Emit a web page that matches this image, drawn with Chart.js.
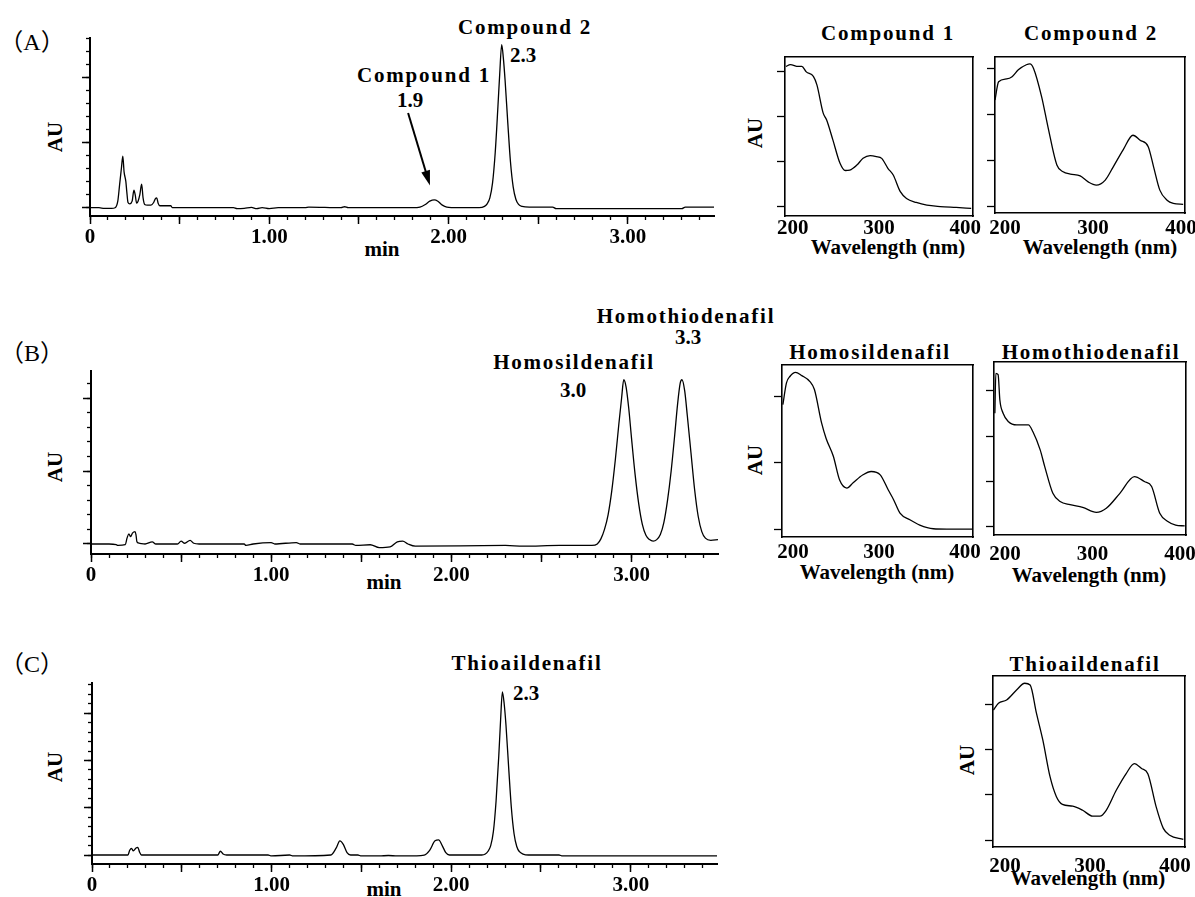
<!DOCTYPE html>
<html>
<head>
<meta charset="utf-8">
<script src="https://cdn.jsdelivr.net/npm/chart.js@4"></script>
<style>
body{margin:0;background:#fff;width:1195px;height:897px;position:relative;overflow:hidden;font-family:"Liberation Serif","Times New Roman",serif;color:#000}
.t{position:absolute;transform:translate(-50%,-50%);white-space:nowrap;font-weight:bold;font-size:21px;line-height:1}
.sp{letter-spacing:1.8px}
.rot{transform:translate(-50%,-50%) rotate(-90deg)}
.pl{font-weight:normal;font-size:24px;font-family:"Liberation Serif","Noto Sans CJK JP",serif}
</style>
</head>
<body>
<div class="t pl" style="left:32px;top:42px">（A）</div>
<div class="t pl" style="left:32px;top:353px">（B）</div>
<div class="t pl" style="left:32px;top:664px">（C）</div>

<div class="t rot" style="left:55px;top:137px">AU</div>
<div class="t rot" style="left:55px;top:467px">AU</div>
<div class="t rot" style="left:55px;top:767px">AU</div>
<div class="t" style="left:382px;top:249px">min</div>
<div class="t" style="left:384px;top:582px">min</div>
<div class="t" style="left:384px;top:889px">min</div>

<div class="t sp" style="left:525px;top:27px">Compound 2</div>
<div class="t" style="left:523px;top:55px">2.3</div>
<div class="t sp" style="left:424px;top:75px">Compound 1</div>
<div class="t" style="left:410px;top:100px">1.9</div>
<div class="t sp" style="left:686px;top:316px">Homothiodenafil</div>
<div class="t" style="left:688px;top:337px">3.3</div>
<div class="t sp" style="left:574px;top:362px">Homosildenafil</div>
<div class="t" style="left:573px;top:390px">3.0</div>
<div class="t sp" style="left:527px;top:663px">Thioaildenafil</div>
<div class="t" style="left:526px;top:693px">2.3</div>

<div class="t sp" style="left:888px;top:33px">Compound 1</div>
<div class="t sp" style="left:1091px;top:33px">Compound 2</div>
<div class="t sp" style="left:870px;top:352px">Homosildenafil</div>
<div class="t sp" style="left:1091px;top:352px">Homothiodenafil</div>
<div class="t sp" style="left:1085px;top:664px">Thioaildenafil</div>
<div class="t rot" style="left:755px;top:133px">AU</div>
<div class="t rot" style="left:755px;top:460px">AU</div>
<div class="t rot" style="left:967px;top:760px">AU</div>
<div class="t" style="left:888px;top:247px">Wavelength (nm)</div>
<div class="t" style="left:1100px;top:247px">Wavelength (nm)</div>
<div class="t" style="left:877px;top:572px">Wavelength (nm)</div>
<div class="t" style="left:1089px;top:575px">Wavelength (nm)</div>
<div class="t" style="left:1088px;top:878px">Wavelength (nm)</div>

<script>
// chromatograms: retention time (min) and response
const timeTickLabels = ['0', '1.00', '2.00', '3.00']
const timeMax = 3.48

const timeA = [0, 0.05, 0.08, 0.12, 0.14, 0.155, 0.165, 0.175, 0.183, 0.19,
    0.2, 0.205, 0.212, 0.222, 0.235, 0.245, 0.252, 0.26, 0.268, 0.278,
    0.288, 0.296, 0.305, 0.32, 0.34, 0.355, 0.365, 0.372, 0.38, 0.39,
    0.42, 0.45, 0.46, 0.8, 0.82, 0.86, 0.9, 0.93, 0.96, 1.0,
    1.05, 1.2, 1.22, 1.4, 1.42, 1.44, 1.8, 1.84, 1.87, 1.895,
    1.92, 1.94, 1.965, 1.99, 2.05, 2.17, 2.2, 2.215, 2.23, 2.245,
    2.26, 2.275, 2.285, 2.296, 2.305, 2.315, 2.33, 2.345, 2.36, 2.375,
    2.39, 2.41, 2.45, 2.58, 2.6, 3.3, 3.32, 3.48]
const auA = [0, 0, -0.01, -0.01, 0, 0.1, 0.35, 0.6, 0.79, 0.55,
    0.4, 0.25, 0.08, 0.06, 0.1, 0.27, 0.2, 0.07, 0.1, 0.2,
    0.36, 0.15, 0.05, 0.04, 0.04, 0.08, 0.14, 0.15, 0.07, 0.03,
    0.03, 0.03, 0, 0, -0.015, -0.01, 0.005, -0.015, 0, -0.015,
    0, 0, 0.01, 0, 0.015, 0, 0, 0.01, 0.05, 0.1,
    0.12, 0.1, 0.04, 0.01, 0, 0, 0.02, 0.06, 0.15, 0.38,
    0.85, 1.55, 2.05, 2.5, 2.3, 1.95, 1.3, 0.7, 0.32, 0.13,
    0.05, 0.02, 0.01, 0.01, -0.015, -0.015, 0.01, 0.01]

const timeB = [0, 0.1, 0.14, 0.15, 0.19, 0.2, 0.21, 0.22, 0.23, 0.245,
    0.25, 0.255, 0.27, 0.3, 0.34, 0.36, 0.48, 0.5, 0.52, 0.55,
    0.57, 0.6, 0.85, 0.86, 0.9, 1.0, 1.02, 1.14, 1.16, 1.45,
    1.47, 1.55, 1.6, 1.66, 1.7, 1.73, 1.76, 1.8, 2.3, 2.4,
    2.6, 2.78, 2.81, 2.83, 2.85, 2.87, 2.89, 2.91, 2.93, 2.945,
    2.957, 2.97, 2.985, 3.0, 3.02, 3.04, 3.06, 3.08, 3.1, 3.12,
    3.14, 3.16, 3.18, 3.2, 3.22, 3.24, 3.255, 3.27, 3.28, 3.295,
    3.31, 3.33, 3.35, 3.37, 3.39, 3.41, 3.44, 3.48]
const auB = [0, 0, -0.01, -0.02, -0.01, 0.08, 0.14, 0.1, 0.15, 0.17,
    0.12, 0.03, 0.01, 0, 0.03, 0, 0, 0.04, 0.01, 0.05,
    0.01, 0, 0, -0.02, 0, 0.02, 0, 0.02, 0, 0,
    -0.02, -0.01, -0.05, -0.04, 0.03, 0.04, 0, -0.03, -0.02, -0.03,
    -0.02, -0.02, 0, 0.07, 0.2, 0.4, 0.72, 1.15, 1.65, 2.0,
    2.25, 2.15, 1.85, 1.45, 0.95, 0.55, 0.27, 0.12, 0.06, 0.04,
    0.06, 0.13, 0.3, 0.6, 1.0, 1.5, 1.9, 2.2, 2.25, 2.1,
    1.75, 1.25, 0.75, 0.38, 0.17, 0.08, 0.05, 0.06]

const timeC = [0, 0.2, 0.21, 0.22, 0.23, 0.245, 0.255, 0.265, 0.275, 0.7,
    0.715, 0.73, 0.75, 0.98, 1.0, 1.1, 1.12, 1.33, 1.36, 1.38,
    1.4, 1.42, 1.44, 1.48, 1.5, 1.6, 1.65, 1.7, 1.75, 1.85,
    1.88, 1.91, 1.93, 1.95, 1.97, 1.99, 2.17, 2.19, 2.205, 2.22,
    2.235, 2.25, 2.265, 2.275, 2.285, 2.295, 2.305, 2.32, 2.335, 2.35,
    2.365, 2.38, 2.4, 2.43, 2.6, 2.62, 2.9, 3.3, 3.48]
const auC = [0, 0, 0.1, 0.14, 0.09, 0.15, 0.16, 0.06, 0, 0,
    0.08, 0.02, 0, 0, -0.02, 0, -0.02, 0, 0.15, 0.3,
    0.22, 0.05, 0, 0, -0.02, -0.02, -0.01, -0.02, -0.02, 0,
    0.1, 0.3, 0.32, 0.2, 0.05, 0, 0, 0.02, 0.08, 0.2,
    0.5, 1.15, 2.1, 2.85, 3.45, 3.2, 2.75, 1.85, 1.0, 0.45,
    0.18, 0.07, 0.02, 0, 0, -0.02, -0.02, -0.02, -0.02]

// UV spectra: wavelength (nm) and absorbance
const wlCompound1 = [192, 197.2, 206.4, 210.5, 215.7, 223.9, 228, 235.2, 239.3, 246.5, 254.8, 260.9, 266.1, 274.3, 281.5, 289.7, 296.9, 303.1, 310.3, 316.5, 324.7, 331.9, 343.2, 355.5, 370.9, 389.4, 406.9]
const auCompound1 = [3.12, 3.16, 3.12, 3.12, 3.0, 2.9, 2.71, 2.09, 1.93, 1.49, 0.97, 0.81, 0.82, 0.93, 1.08, 1.14, 1.12, 1.08, 0.86, 0.71, 0.34, 0.19, 0.1, 0.04, 0.01, -0.01, -0.03]

const wlCompound2 = [188.6, 192.7, 201.8, 208, 215.1, 224.2, 228.3, 232.4, 241.6, 248.7, 258.9, 266, 274.2, 285.4, 294.5, 303.7, 313.9, 323, 334.2, 345.4, 353.5, 362.7, 368.8, 375.9, 384.1, 391.2, 402.4]
const auCompound2 = [2.32, 2.72, 2.78, 2.83, 2.98, 3.09, 3.11, 3.01, 2.39, 1.74, 0.9, 0.75, 0.7, 0.66, 0.53, 0.46, 0.57, 0.86, 1.23, 1.55, 1.44, 1.3, 0.86, 0.35, 0.13, 0.06, 0.04]

const wlHomosildenafil = [188.2, 192.4, 196.6, 202.9, 210.2, 219.7, 224.9, 233.3, 238.5, 246.9, 254.2, 262.6, 269.9, 281.4, 290.9, 301.4, 310.8, 317.1, 324.4, 335.9, 347.4, 363.2, 378.9, 408.2]
const auHomosildenafil = [1.88, 2.21, 2.31, 2.37, 2.32, 2.23, 2.11, 1.6, 1.37, 1.1, 0.74, 0.62, 0.7, 0.82, 0.87, 0.82, 0.59, 0.44, 0.24, 0.14, 0.06, 0.005, 0, 0]

const wlHomothiodenafil = [188.4, 189.5, 192.1, 194.1, 197.8, 204, 213.3, 226.7, 231.9, 240.2, 245.4, 254.7, 263, 274.3, 288.8, 304.4, 315.8, 331.3, 347.9, 359.3, 367.6, 376.9, 386.1, 395.1, 405.4]
const auHomothiodenafil = [2.51, 3.39, 3.36, 2.8, 2.51, 2.32, 2.25, 2.25, 2.1, 1.7, 1.33, 0.74, 0.56, 0.49, 0.43, 0.32, 0.41, 0.74, 1.11, 1.0, 0.89, 0.3, 0.12, 0.04, 0.02]

const wlThioaildenafil = [186.4, 192.3, 201.9, 213.6, 223.2, 229.6, 237, 244.5, 253, 260.5, 267.6, 279.7, 291.4, 303.1, 311.7, 319.1, 330.9, 342.6, 352.2, 360.7, 368.2, 377.8, 386.3, 393.8, 409.8]
const auThioaildenafil = [2.87, 3.02, 3.09, 3.31, 3.46, 3.42, 2.8, 2.21, 1.4, 0.96, 0.79, 0.75, 0.66, 0.53, 0.53, 0.66, 1.1, 1.47, 1.69, 1.58, 1.46, 0.74, 0.26, 0.11, 0.02]

// arrow pointing at compound 1 in (A), in data units
const arrowFrom = [1.774, 1.45]
const arrowTo = [1.896, 0.34]

const ink = '#000'
const tickFont = {family: 'Liberation Serif', weight: 'bold', size: 21}

function gridTicks(lo, hi, step){
    const ticks = []
    for(let k = Math.ceil(lo / step - 1e-9); k * step <= hi + 1e-9; k++){
        ticks.push({value: Math.round(k * step * 1000) / 1000})
    }
    return ticks
}

function placeCanvas(area, m){
    const c = document.createElement('canvas')
    const w = area[2] - area[0] + m[0] + m[2]
    const h = area[3] - area[1] + m[1] + m[3]
    c.width = w
    c.height = h
    c.style.cssText = `position:absolute;left:${area[0] - m[0]}px;top:${area[1] - m[1]}px;width:${w}px;height:${h}px`
    document.body.appendChild(c)
    return c
}

function pairs(xs, ys){
    return xs.map((x, i) => ({x: x, y: ys[i]}))
}

const arrowPlugin = {
    id: 'arrow',
    afterDatasetsDraw(chart){
        const {ctx, scales} = chart
        const x0 = scales.x.getPixelForValue(arrowFrom[0]), y0 = scales.y.getPixelForValue(arrowFrom[1])
        const x1 = scales.x.getPixelForValue(arrowTo[0]), y1 = scales.y.getPixelForValue(arrowTo[1])
        const a = Math.atan2(y1 - y0, x1 - x0)
        ctx.save()
        ctx.strokeStyle = ink
        ctx.fillStyle = ink
        ctx.lineWidth = 2
        ctx.beginPath()
        ctx.moveTo(x0, y0)
        ctx.lineTo(x1 - 10 * Math.cos(a), y1 - 10 * Math.sin(a))
        ctx.stroke()
        ctx.beginPath()
        ctx.moveTo(x1, y1)
        ctx.lineTo(x1 - 15 * Math.cos(a) + 4.5 * Math.sin(a), y1 - 15 * Math.sin(a) - 4.5 * Math.cos(a))
        ctx.lineTo(x1 - 15 * Math.cos(a) - 4.5 * Math.sin(a), y1 - 15 * Math.sin(a) + 4.5 * Math.cos(a))
        ctx.closePath()
        ctx.fill()
        ctx.restore()
    }
}

function chromatogram(area, times, values, yMin, yMax, plugins){
    const m = [40, 4, 20, 40]
    const canvas = placeCanvas(area, m)
    return new Chart(canvas, {
        type: 'line',
        data: {
            datasets: [{
                data: pairs(times, values),
                borderColor: ink,
                borderWidth: 1.3,
                pointRadius: 0,
                cubicInterpolationMode: 'monotone',
                fill: false
            }]
        },
        plugins: plugins || [],
        options: {
            responsive: false,
            animation: false,
            events: [],
            layout: {padding: {left: 0, top: m[1], right: m[2], bottom: 0}},
            plugins: {legend: {display: false}, tooltip: {enabled: false}},
            scales: {
                x: {
                    type: 'linear', min: 0, max: timeMax, bounds: 'data',
                    afterBuildTicks: s => { s.ticks = gridTicks(0, timeMax, 0.5) },
                    afterFit: s => { s.height = m[3] },
                    border: {color: ink, width: 2},
                    grid: {drawOnChartArea: false, tickLength: 8, tickWidth: 1.5, tickColor: ink},
                    ticks: {
                        autoSkip: false, maxRotation: 0, padding: 1, color: ink, font: tickFont,
                        callback: v => Math.abs(v - Math.round(v)) < 1e-6 ? timeTickLabels[Math.round(v)] : ''
                    }
                },
                xMinor: {
                    type: 'linear', axis: 'x', position: {y: yMin}, min: 0, max: timeMax, bounds: 'data',
                    afterBuildTicks: s => { s.ticks = gridTicks(0, timeMax, 0.1) },
                    border: {display: false},
                    grid: {drawOnChartArea: false, tickLength: 4, tickWidth: 1.3, tickColor: ink},
                    ticks: {display: false}
                },
                y: {
                    type: 'linear', min: yMin, max: yMax, bounds: 'data',
                    afterBuildTicks: s => { s.ticks = gridTicks(yMin, yMax, 1) },
                    afterFit: s => { s.width = m[0] },
                    border: {color: ink, width: 2},
                    grid: {drawOnChartArea: false, tickLength: 8, tickWidth: 1.5, tickColor: ink},
                    ticks: {display: false}
                },
                yMinor: {
                    type: 'linear', axis: 'y', position: {x: 0}, min: yMin, max: yMax, bounds: 'data',
                    afterBuildTicks: s => { s.ticks = gridTicks(yMin, yMax, 0.2) },
                    border: {display: false},
                    grid: {drawOnChartArea: false, tickLength: 4, tickWidth: 1.3, tickColor: ink},
                    ticks: {display: false}
                }
            }
        }
    })
}

function spectrum(area, wl, au, wlRange, yMin, yMax, labelPad){
    const m = [22, 3, 24, 34]
    const canvas = placeCanvas(area, m)
    const frame = {color: ink, width: 1.6}
    return new Chart(canvas, {
        type: 'line',
        data: {
            datasets: [{
                data: pairs(wl, au),
                borderColor: ink,
                borderWidth: 1.3,
                pointRadius: 0,
                cubicInterpolationMode: 'monotone',
                fill: false
            }]
        },
        options: {
            responsive: false,
            animation: false,
            events: [],
            layout: {padding: {left: 0, top: m[1], right: m[2], bottom: 0}},
            plugins: {legend: {display: false}, tooltip: {enabled: false}},
            scales: {
                x: {
                    type: 'linear', min: wlRange[0], max: wlRange[1], bounds: 'data',
                    afterBuildTicks: s => { s.ticks = gridTicks(200, 400, 100) },
                    afterFit: s => { s.height = m[3] },
                    border: frame,
                    grid: {display: false, drawTicks: false},
                    ticks: {autoSkip: false, maxRotation: 0, padding: labelPad, color: ink, font: tickFont}
                },
                xTop: {
                    type: 'linear', axis: 'x', position: 'top', min: wlRange[0], max: wlRange[1],
                    afterFit: s => { s.height = 0 },
                    border: frame,
                    grid: {display: false, drawTicks: false},
                    ticks: {display: false}
                },
                y: {
                    type: 'linear', min: yMin, max: yMax, bounds: 'data',
                    afterBuildTicks: s => { s.ticks = gridTicks(0, yMax, 1) },
                    afterFit: s => { s.width = m[0] },
                    border: frame,
                    grid: {drawOnChartArea: false, tickLength: 8, tickWidth: 1.3, tickColor: ink},
                    ticks: {display: false}
                },
                yRight: {
                    type: 'linear', axis: 'y', position: 'right', min: yMin, max: yMax,
                    afterFit: s => { s.width = 0 },
                    border: frame,
                    grid: {display: false, drawTicks: false},
                    ticks: {display: false}
                }
            }
        }
    })
}

chromatogram([90, 38, 714, 216], timeA, auA, -0.127, 2.6, [arrowPlugin])
chromatogram([91, 371, 718, 554], timeB, auB, -0.137, 2.37)
chromatogram([92, 683, 717, 864], timeC, auC, -0.19, 3.64)

spectrum([785, 57, 973, 216], wlCompound1, auCompound1, [191, 409], -0.2, 3.33, 0)
spectrum([995, 57, 1185, 213], wlCompound2, auCompound2, [188.6, 404.5], -0.15, 3.26, 3)
spectrum([782, 365, 973, 537], wlHomosildenafil, auHomosildenafil, [187.2, 409.3], -0.12, 2.48, 3)
spectrum([994, 362, 1186, 535], wlHomothiodenafil, auHomothiodenafil, [187.4, 406.9], -0.18, 3.64, 7)
spectrum([993, 676, 1185, 847], wlThioaildenafil, auThioaildenafil, [185.9, 411.8], -0.15, 3.62, 7)
</script>
</body>
</html>
